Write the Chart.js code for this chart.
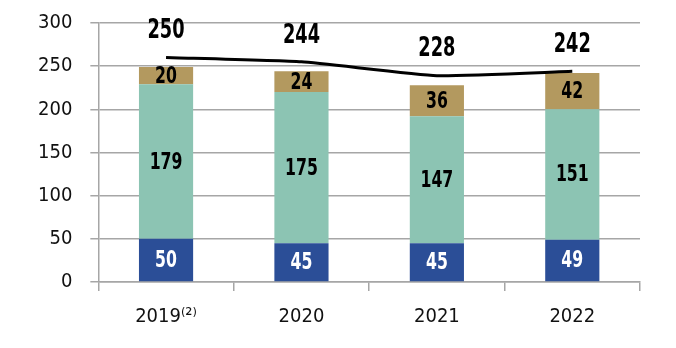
<!DOCTYPE html>
<html>
<head>
<meta charset="utf-8">
<script src="https://cdn.jsdelivr.net/npm/chart.js@4.4.1/dist/chart.umd.min.js"></script>
<style>
  html, body { margin: 0; padding: 0; background: #fff; }
  #wrap { width: 676px; height: 348px; }
</style>
</head>
<body>
<div id="wrap"><canvas id="chart"></canvas></div>
<script>
// categories and values
const years = ['2019⁽²⁾', '2020', '2021', '2022'];
const bottomPart = [50, 45, 45, 49];
const middlePart = [179, 175, 147, 151];
const topPart = [20, 24, 36, 42];
const totals = [250, 244, 228, 242];
// the black trend line sits a little above the bars
const trendLine = [260, 255, 239, 244];

const FONT = '"DejaVu Sans Condensed", "DejaVu Sans", sans-serif';

// squeezed text, the original uses a tall condensed face
function narrowText(ctx, text, x, y, squeeze) {
    ctx.save();
    ctx.translate(x, y);
    ctx.scale(squeeze, 1);
    ctx.fillText(text, 0, 0);
    ctx.restore();
}

// draws the numbers inside the bars and the totals above the line
const valueLabels = {
    id: 'valueLabels',
    afterDatasetsDraw(chart) {
        const ctx = chart.ctx;
        ctx.save();
        ctx.textAlign = 'center';
        ctx.textBaseline = 'middle';
        chart.data.datasets.forEach((ds, i) => {
            const meta = chart.getDatasetMeta(i);
            if (ds.type === 'line') {
                ctx.font = 'bold 26px ' + FONT;
                ctx.fillStyle = '#000';
                meta.data.forEach((pt, j) => {
                    narrowText(ctx, String(totals[j]), pt.x, pt.y - 26, 0.76);
                });
                return;
            }
            ctx.font = 'bold 23px ' + FONT;
            ctx.fillStyle = ds.labelColor;
            meta.data.forEach((bar, j) => {
                const mid = (bar.y + bar.base) / 2;
                narrowText(ctx, String(ds.data[j]), bar.x, mid + 1, 0.76);
            });
        });
        ctx.restore();
    }
};

new Chart(document.getElementById('chart'), {
    type: 'bar',
    data: {
        labels: years,
        datasets: [
            {
                type: 'line',
                data: trendLine,
                borderColor: '#000',
                borderWidth: 3,
                pointRadius: 0,
                tension: 0.15,
                stack: 'trend',
                order: 0
            },
            {
                data: bottomPart,
                backgroundColor: '#2b4e97',
                labelColor: '#fff',
                order: 1
            },
            {
                data: middlePart,
                backgroundColor: '#8cc4b3',
                labelColor: '#000',
                order: 1
            },
            {
                data: topPart,
                backgroundColor: '#b3995f',
                labelColor: '#000',
                order: 1
            }
        ]
    },
    options: {
        responsive: true,
        maintainAspectRatio: false,
        animation: false,
        layout: { padding: { top: 0, right: 36, bottom: 5, left: 20 } },
        datasets: {
            bar: { categoryPercentage: 1, barPercentage: 0.4 }
        },
        plugins: {
            legend: { display: false },
            tooltip: { enabled: false }
        },
        scales: {
            x: {
                stacked: true,
                grid: {
                    drawOnChartArea: false,
                    drawTicks: true,
                    tickLength: 9,
                    color: '#a6a6a6',
                    lineWidth: 1.5
                },
                border: { color: '#a6a6a6', width: 1.5 },
                ticks: {
                    color: '#111',
                    font: { family: FONT, size: 20 },
                    padding: 14
                }
            },
            y: {
                stacked: true,
                min: 0,
                max: 300,
                grid: {
                    color: '#a6a6a6',
                    lineWidth: 1.5,
                    tickLength: 8
                },
                border: { color: '#a6a6a6', width: 1.5 },
                ticks: {
                    stepSize: 50,
                    color: '#111',
                    font: { family: FONT, size: 20 },
                    padding: 18
                },
                // tick padding also pads the top, keep the plot near the top edge
                afterFit(scale) {
                    scale.paddingTop = 23;
                }
            }
        }
    },
    plugins: [valueLabels]
});
</script>
</body>
</html>
